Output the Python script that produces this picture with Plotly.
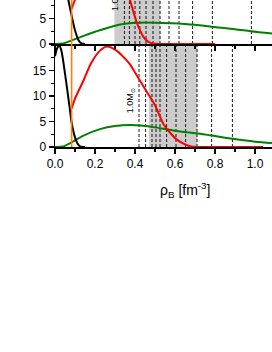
import plotly.graph_objects as go

# ---- data ----
# bottom panel
x_black_bot = [0.0, 0.01, 0.02, 0.03, 0.05, 0.075, 0.083, 0.1, 0.117, 0.13, 0.15]
y_black_bot = [17.8, 19.3, 19.9, 19.2, 14.4, 7.2, 4.8, 1.9, 0.4, 0.05, 0.0]
x_red_bot = [0.083, 0.1, 0.142, 0.183, 0.225, 0.26, 0.308, 0.358, 0.375, 0.4, 0.425, 0.458, 0.5,
             0.542, 0.575, 0.608, 0.65, 0.68, 0.72, 0.8, 0.9, 1.04]
y_red_bot = [7.5, 9.5, 13.0, 16.6, 18.9, 19.7, 18.9, 17.0, 16.2, 14.6, 13.0, 10.9, 8.2,
             4.5, 2.8, 1.5, 0.5, 0.1, 0.0, 0.0, 0.0, 0.0]
x_green_bot = [0.0, 0.04, 0.083, 0.14, 0.225, 0.3, 0.375, 0.45, 0.54, 0.6, 0.725, 0.775, 0.89, 1.0, 1.085]
y_green_bot = [0.0, 0.1, 0.9, 2.2, 3.5, 4.1, 4.3, 4.1, 3.6, 3.2, 2.6, 2.3, 1.6, 1.05, 0.8]
bottom_dash_x = [0.42, 0.453, 0.485, 0.505, 0.525, 0.558, 0.605, 0.653, 0.71, 0.783, 0.887]
bottom_shade = [0.47, 0.712]
bottom_label = ["1.0M<sub>⊙</sub>", 0.378, 9.1]

# top panel
x_black_top = [0.0, 0.02, 0.05, 0.067, 0.083, 0.1, 0.117, 0.133, 0.15]
y_black_top = [15.0, 17.0, 11.8, 8.6, 5.6, 2.7, 0.8, 0.1, 0.0]
x_red_top = [0.083, 0.1, 0.15, 0.2, 0.25, 0.3, 0.35, 0.375, 0.4, 0.417, 0.442, 0.467, 0.49,
             0.52, 0.6, 0.7, 0.8]
y_red_top = [6.9, 8.7, 12.5, 15.0, 16.0, 15.0, 11.8, 8.6, 5.3, 3.4, 1.4, 0.4, 0.1,
             0.0, 0.0, 0.0, 0.0]
x_green_top = [0.0, 0.04, 0.09, 0.15, 0.2, 0.25, 0.3, 0.333, 0.42, 0.5, 0.58, 0.7, 0.79, 0.9, 0.98, 1.085]
y_green_top = [0.0, 0.1, 0.8, 1.7, 2.4, 3.0, 3.6, 3.9, 4.2, 4.2, 4.1, 3.8, 3.35, 2.9, 2.5, 2.05]
top_dash_x = [0.347, 0.372, 0.4, 0.424, 0.455, 0.49, 0.525, 0.57, 0.62, 0.688, 0.787, 0.982]
top_shade = [0.297, 0.527]
top_label = ["1.0M<sub>⊙</sub>", 0.305, 6.0]

orange_x = 0.083

x_tickvals = [0.0, 0.2, 0.4, 0.6, 0.8, 1.0]
x_ticktext = ["0.0", "0.2", "0.4", "0.6", "0.8", "1.0"]
y_tickvals_bot = [0, 5, 10, 15]
y_tickvals_top = [0, 5]
xlabel = "ρ<sub>B</sub> [fm<sup>-3</sup>]"

# ---- figure ----
FONT = "Arial, Liberation Sans, sans-serif"
fig = go.Figure()

def add_curves(xs, ys, color, xa, ya):
    fig.add_trace(go.Scatter(x=xs, y=ys, mode="lines",
                             line=dict(color=color, width=2, shape="spline", smoothing=0.8),
                             xaxis=xa, yaxis=ya, showlegend=False, hoverinfo="skip"))

# bottom panel (x, y)
add_curves(x_green_bot, y_green_bot, "#008000", "x", "y")
add_curves(x_black_bot, y_black_bot, "#000000", "x", "y")
add_curves(x_red_bot, y_red_bot, "#ff0000", "x", "y")
# top panel (x2, y2)
add_curves(x_green_top, y_green_top, "#008000", "x2", "y2")
add_curves(x_black_top, y_black_top, "#000000", "x2", "y2")
add_curves(x_red_top, y_red_top, "#ff0000", "x2", "y2")

shapes = []
for (shade, dashes, xr, yr) in [(bottom_shade, bottom_dash_x, "x", "y domain"),
                                (top_shade, top_dash_x, "x2", "y2 domain")]:
    shapes.append(dict(type="rect", xref=xr, yref=yr, x0=shade[0], x1=shade[1], y0=0, y1=1,
                       fillcolor="#cccccc", line=dict(width=0), layer="below"))
    for d in dashes:
        shapes.append(dict(type="line", xref=xr, yref=yr, x0=d, x1=d, y0=0, y1=1,
                           line=dict(color="black", width=0.9, dash="3px,2px"), layer="below"))
    shapes.append(dict(type="line", xref=xr, yref=yr, x0=orange_x, x1=orange_x, y0=0, y1=1,
                       line=dict(color="#ff8000", width=1.6), layer="above"))

annotations = [
    dict(text=bottom_label[0], x=bottom_label[1], y=bottom_label[2], xref="x", yref="y",
         textangle=-90, showarrow=False, font=dict(family=FONT, size=9, color="black"),
         xanchor="center", yanchor="middle"),
    dict(text=top_label[0], x=top_label[1], y=top_label[2], xref="x2", yref="y2",
         textangle=-90, showarrow=False, font=dict(family=FONT, size=9, color="black"),
         xanchor="center", yanchor="bottom"),
    dict(text=xlabel, x=0.599, y=-0.293, xref="paper", yref="paper", showarrow=False,
         font=dict(family=FONT, size=14, color="black"), xanchor="center", yanchor="middle"),
]

split = 103 / 147
axis_common = dict(showline=True, linecolor="black", linewidth=1.5, showgrid=False, zeroline=False,
                   ticks="outside", ticklen=5, tickwidth=1.2, tickcolor="black",
                   tickfont=dict(family=FONT, size=12, color="black"))

fig.update_layout(
    width=272, height=352,
    margin=dict(l=55, r=0, t=0, b=205, pad=0),
    paper_bgcolor="white", plot_bgcolor="white",
    font=dict(family=FONT, color="black"),
    showlegend=False,
    shapes=shapes, annotations=annotations,
    xaxis=dict(domain=[0, 1], range=[0, 1.085], anchor="y",
               tickmode="array", tickvals=x_tickvals, ticktext=x_ticktext,
               minor=dict(dtick=0.1, tick0=0, ticks="outside", ticklen=3, tickcolor="black"),
               **axis_common),
    yaxis=dict(domain=[0, split], range=[0, 20.2], anchor="x",
               tickmode="array", tickvals=y_tickvals_bot,
               minor=dict(dtick=2.5, tick0=0, ticks="outside", ticklen=3, tickcolor="black"),
               **axis_common),
    xaxis2=dict(domain=[0, 1], range=[0, 1.085], anchor="y2", matches="x",
                tickmode="array", tickvals=x_tickvals, showticklabels=False,
                minor=dict(dtick=0.1, tick0=0, ticks="outside", ticklen=3, tickcolor="black"),
                **axis_common),
    yaxis2=dict(domain=[split, 1], range=[0, 8.65], anchor="x2",
                tickmode="array", tickvals=y_tickvals_top,
                minor=dict(dtick=2.5, tick0=0, ticks="outside", ticklen=3, tickcolor="black"),
                **axis_common),
)

fig.write_html("out.html",
               config={"displayModeBar": False, "staticPlot": True},
               post_script="document.body.style.margin='0';document.body.style.padding='0';")
